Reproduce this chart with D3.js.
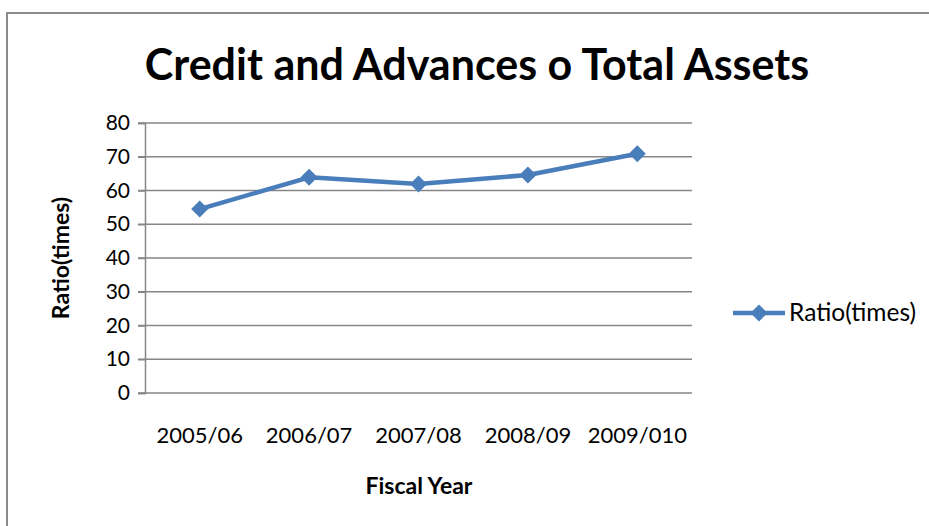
<!DOCTYPE html>
<html>
<head>
<meta charset="utf-8">
<script src="https://cdn.jsdelivr.net/npm/d3@7"></script>
<style>
  body { margin: 0; background: #fff; }
  svg { display: block; font-family: Lato, "Open Sans", sans-serif; }
</style>
</head>
<body>
<div id="chart"></div>
<script>
// data
const years = ["2005/06", "2006/07", "2007/08", "2008/09", "2009/010"];
const ratio = [54.5, 63.9, 61.9, 64.6, 70.9];
const yTicks = [0, 10, 20, 30, 40, 50, 60, 70, 80];

const width = 929;
const height = 526;
const marginLeft = 145;
const marginRight = 237;
const marginTop = 123;
const marginBottom = 133;
const blue = "#4a7ebb";
const grid = "#868686";

const svg = d3.select("#chart").append("svg")
    .attr("width", width)
    .attr("height", height);

// outer frame (cut off at right and bottom like the source)
svg.append("rect")
    .attr("x", 7).attr("y", 13)
    .attr("width", width + 20).attr("height", height + 20)
    .attr("fill", "none")
    .attr("stroke", "#8c8c8c")
    .attr("stroke-width", 2);

const x = d3.scaleBand()
    .domain(years)
    .range([marginLeft, width - marginRight]);

const y = d3.scaleLinear()
    .domain([0, 80])
    .range([height - marginBottom, marginTop]);

// gridlines
svg.append("g")
  .selectAll("line")
  .data(yTicks)
  .join("line")
    .attr("x1", marginLeft - 7)
    .attr("x2", width - marginRight)
    .attr("y1", d => y(d))
    .attr("y2", d => y(d))
    .attr("stroke", grid)
    .attr("stroke-width", 1.5);

// y axis
const yAxis = svg.append("g")
    .attr("transform", `translate(${marginLeft},0)`)
    .call(d3.axisLeft(y).tickValues(yTicks).tickSize(7).tickPadding(8));
yAxis.select(".domain").attr("stroke", grid).attr("stroke-width", 1.5);
yAxis.selectAll(".tick line").attr("stroke", grid).attr("stroke-width", 1.5);
yAxis.selectAll("text").attr("font-size", 21).attr("fill", "#000")
    .attr("font-family", "Lato, sans-serif");

// x axis labels
const xAxis = svg.append("g")
    .attr("transform", `translate(0,${height - marginBottom})`)
    .call(d3.axisBottom(x).tickSize(0).tickPadding(34));
xAxis.select(".domain").remove();
xAxis.selectAll("text").attr("font-size", 22).attr("fill", "#000")
    .attr("font-family", "Lato, sans-serif");

// line + markers
const cx = d => x(d) + x.bandwidth() / 2;
const line = d3.line()
    .x((d, i) => cx(years[i]))
    .y(d => y(d));

svg.append("path")
    .datum(ratio)
    .attr("fill", "none")
    .attr("stroke", blue)
    .attr("stroke-width", 4.5)
    .attr("stroke-linejoin", "round")
    .attr("d", line);

const diamond = d3.symbol().type(d3.symbolDiamond2).size(185);
svg.append("g")
  .selectAll("path")
  .data(ratio)
  .join("path")
    .attr("d", diamond)
    .attr("transform", (d, i) => `translate(${cx(years[i])},${y(d)})`)
    .attr("fill", blue);

// title
svg.append("text")
    .attr("x", 477).attr("y", 80)
    .attr("text-anchor", "middle")
    .attr("font-size", 43)
    .attr("font-weight", "bold")
    .text("Credit and Advances o Total Assets");

// axis titles
svg.append("text")
    .attr("transform", `translate(69,${(y(0) + y(80)) / 2}) rotate(-90)`)
    .attr("text-anchor", "middle")
    .attr("font-size", 23)
    .attr("font-weight", "bold")
    .text("Ratio(times)");

svg.append("text")
    .attr("x", 419).attr("y", 494)
    .attr("text-anchor", "middle")
    .attr("font-size", 23)
    .attr("font-weight", "bold")
    .text("Fiscal Year");

// legend
const legend = svg.append("g").attr("transform", "translate(733,313)");
legend.append("line")
    .attr("x1", 0).attr("x2", 52)
    .attr("stroke", blue).attr("stroke-width", 4.5);
legend.append("path")
    .attr("d", diamond)
    .attr("transform", "translate(26,0)")
    .attr("fill", blue);
legend.append("text")
    .attr("x", 56).attr("y", 8)
    .attr("font-size", 24.5)
    .text("Ratio(times)");
</script>
</body>
</html>
